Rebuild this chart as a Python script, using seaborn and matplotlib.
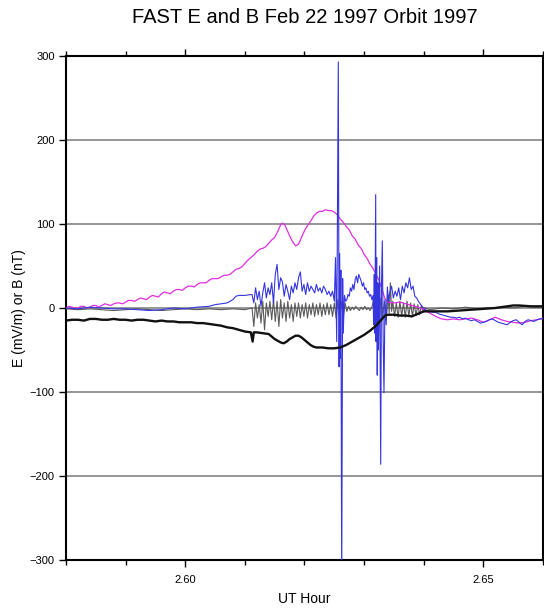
import numpy as np
import pandas as pd
import matplotlib
matplotlib.use("Agg")
import matplotlib.pyplot as plt
import seaborn as sns
from matplotlib.ticker import MultipleLocator

# ---- FAST orbit 1997 traces: (UT hour, value) ----
# magnetic perturbation (nT)
b_pert = [
    (2.580, 0), (2.5805, 2), (2.581, 1), (2.5815, 0), (2.582, 0), (2.5825, 2),
    (2.583, 2), (2.5835, 0), (2.584, 1), (2.5845, 3), (2.585, 3), (2.5855, 1),
    (2.586, 3), (2.5865, 5), (2.587, 4), (2.5875, 3), (2.588, 5), (2.5885, 6),
    (2.589, 6), (2.5895, 5), (2.590, 7), (2.5905, 9), (2.591, 9), (2.5915, 8),
    (2.592, 10), (2.5925, 12), (2.593, 11), (2.5935, 10), (2.594, 13),
    (2.5945, 15), (2.595, 14), (2.5955, 13), (2.596, 17), (2.5965, 19),
    (2.597, 18), (2.5975, 17), (2.598, 20), (2.5985, 22), (2.599, 22),
    (2.5995, 21), (2.600, 24), (2.6005, 26), (2.601, 26), (2.6015, 25),
    (2.602, 28), (2.6025, 30), (2.603, 30), (2.6035, 30), (2.604, 33),
    (2.6045, 35), (2.605, 35), (2.6055, 35), (2.606, 37), (2.6065, 39),
    (2.607, 39), (2.6075, 40), (2.608, 43), (2.6085, 46), (2.609, 47),
    (2.6095, 49), (2.610, 53), (2.6105, 57), (2.611, 60), (2.6115, 63),
    (2.612, 67), (2.6125, 70), (2.613, 71), (2.6135, 73), (2.614, 77),
    (2.6145, 81), (2.615, 84),
    (2.6155, 91), (2.616, 99), (2.6163, 101), (2.6167, 99), (2.617, 94),
    (2.6175, 86), (2.618, 79), (2.6185, 74), (2.619, 76), (2.6195, 84),
    (2.620, 92), (2.6205, 98), (2.621, 103), (2.6215, 109), (2.622, 113),
    (2.6225, 115), (2.623, 115), (2.6235, 117), (2.624, 116), (2.6245, 116),
    (2.625, 114), (2.6255, 111), (2.626, 106), (2.6265, 102), (2.627, 97),
    (2.6275, 93), (2.628, 86), (2.6285, 82), (2.629, 75), (2.6295, 71),
    (2.630, 64), (2.6305, 59), (2.631, 52), (2.6315, 47), (2.632, 40),
    (2.6325, 33), (2.633, 22), (2.6335, 11), (2.634, 7), (2.635, 6), (2.636, 7),
    (2.637, 5), (2.638, 3), (2.639, 1), (2.640, -2), (2.641, -6), (2.642, -10),
    (2.643, -13), (2.644, -14), (2.645, -13), (2.646, -14), (2.647, -13),
    (2.648, -12), (2.649, -14), (2.650, -17), (2.651, -14), (2.652, -11),
    (2.653, -14), (2.654, -16), (2.655, -17), (2.656, -18), (2.657, -17),
    (2.658, -15), (2.659, -14), (2.660, -12),
]

# electric field, along-track component (mV/m)
e_along = [
    (2.580, 0), (2.582, -1), (2.584, 1), (2.586, 0), (2.588, -1), (2.590, -1),
    (2.592, -2), (2.594, -3), (2.596, -2), (2.598, 0), (2.600, -1), (2.602, 1),
    (2.604, 2), (2.605, 4), (2.606, 5), (2.607, 6), (2.608, 10), (2.6085, 14),
    (2.609, 15), (2.610, 15), (2.611, 16),
    (2.6112, 16), (2.6115, 6), (2.6118, 24), (2.6121, 10), (2.6124, 20),
    (2.6127, 2), (2.6130, 18), (2.6133, 30), (2.6136, 12), (2.6139, 24),
    (2.6142, 16), (2.6145, 30), (2.6148, 6), (2.6151, 40), (2.6154, 52),
    (2.6157, 22), (2.6160, 36), (2.6163, 31), (2.6166, 14), (2.6169, 28),
    (2.6172, 20), (2.6175, 10), (2.6178, 26), (2.6181, 18), (2.6184, 30),
    (2.6187, 22), (2.6190, 36), (2.6193, 43), (2.6196, 20), (2.6199, 28),
    (2.6202, 16), (2.6205, 30), (2.6208, 20), (2.6211, 26), (2.6214, 22),
    (2.6217, 18), (2.6220, 28), (2.6223, 20), (2.6226, 24), (2.6229, 18),
    (2.6232, 26), (2.6235, 22), (2.6238, 16), (2.6241, 20), (2.6244, 14),
    (2.6247, 20), (2.6250, 8),
    (2.6252, 60), (2.6254, -40), (2.6255, 75), (2.62567, 293), (2.6258, -70),
    (2.6259, 65), (2.6260, -60), (2.6261, 45), (2.62624, -330), (2.6264, 35),
    (2.6265, -30), (2.6267, 15), (2.6269, 8),
    (2.6271, 10), (2.6273, 16), (2.6275, 14), (2.6277, 24), (2.6279, 20),
    (2.6281, 28), (2.6283, 22), (2.6285, 34), (2.6287, 38), (2.6289, 30),
    (2.6291, 40), (2.6293, 36), (2.6295, 32), (2.6297, 26), (2.6299, 30),
    (2.6301, 22), (2.6303, 24), (2.6305, 18), (2.6307, 20), (2.6309, 14),
    (2.6311, 16), (2.6313, 10),
    (2.6315, 15), (2.6316, -20), (2.6317, 40), (2.6318, -30), (2.63194, 135),
    (2.6320, -40), (2.6321, 60), (2.6322, -80), (2.6323, 30), (2.6324, -50),
    (2.6326, 50), (2.63278, -186), (2.6329, 20), (2.63305, 80), (2.6332, -40),
    (2.63333, -101), (2.6335, 10), (2.6337, -20), (2.6339, 25), (2.6341, 8),
    (2.6343, 18), (2.6346, 26), (2.6349, 12), (2.6352, 20), (2.6355, 14),
    (2.6358, 24), (2.6361, 10), (2.6364, 26), (2.6367, 18), (2.6370, 30),
    (2.6373, 24), (2.6376, 36), (2.6379, 22), (2.6382, 26), (2.6385, 14),
    (2.6388, 12), (2.6391, 8), (2.6394, 5), (2.6397, 2), (2.6400, 0),
    (2.6405, -3), (2.6410, -4), (2.6415, -5), (2.6420, -5), (2.6425, -7),
    (2.6430, -8), (2.6435, -9), (2.6440, -10), (2.6445, -11), (2.6450, -11),
    (2.6455, -12), (2.6460, -11), (2.6465, -13), (2.6470, -12), (2.6475, -14),
    (2.6480, -15), (2.6485, -14), (2.6490, -16), (2.6495, -18), (2.6500, -17),
    (2.6505, -16), (2.6510, -14), (2.6515, -13), (2.6520, -15), (2.6525, -17),
    (2.6530, -18), (2.6535, -19), (2.6540, -20), (2.6545, -17), (2.6550, -15),
    (2.6555, -14), (2.6560, -17), (2.6565, -20), (2.6570, -16), (2.6575, -14),
    (2.6580, -15), (2.6585, -16), (2.6590, -14), (2.6595, -13), (2.6600, -13),
]

# electric field, spin-axis component (mV/m)
e_spin = [
    (2.580, -1), (2.582, -2), (2.584, -1), (2.586, -2), (2.588, -3), (2.590, -2),
    (2.592, -1), (2.594, -2), (2.596, -3), (2.598, -2), (2.600, -1), (2.602, -2),
    (2.604, -1), (2.606, -2), (2.608, -1), (2.610, -2),
    (2.6112, 0), (2.6115, -22), (2.6118, 6), (2.6121, -12), (2.6124, 4),
    (2.6127, -18), (2.6130, 8), (2.6133, -26), (2.6136, 6), (2.6139, -10),
    (2.6142, 8), (2.6145, -14), (2.6148, 10), (2.6151, -16), (2.6154, 8),
    (2.6157, -22), (2.6160, 10), (2.6163, -12), (2.6166, 6), (2.6169, -16),
    (2.6172, 8), (2.6175, -12), (2.6178, 4), (2.6181, -16), (2.6184, 6),
    (2.6187, -10), (2.6190, 6), (2.6193, -12), (2.6196, 4), (2.6199, -10),
    (2.6202, 6), (2.6205, -12), (2.6208, 4), (2.6211, -8), (2.6214, 6),
    (2.6217, -10), (2.6220, 4), (2.6223, -8), (2.6226, 6), (2.6229, -10),
    (2.6232, 4), (2.6235, -8), (2.6238, 6), (2.6241, -8), (2.6244, 4),
    (2.6247, -10), (2.6250, 6),
    (2.6253, -12), (2.6256, 10), (2.6259, -14), (2.6262, 8), (2.6265, -10),
    (2.6268, 6), (2.6271, -4),
    (2.6274, 2), (2.6277, -3), (2.6280, 1), (2.6283, -2), (2.6286, 2),
    (2.6289, -1), (2.6292, -3), (2.6295, 1), (2.6298, -2), (2.6301, 2),
    (2.6304, -2), (2.6307, 0), (2.6310, -3), (2.6313, 1),
    (2.6316, 10), (2.6319, -20), (2.6322, 14), (2.6325, -18), (2.6328, 12),
    (2.6331, -10), (2.6334, 8), (2.6337, -14), (2.6340, 16), (2.6342, -6),
    (2.6344, 30), (2.6346, -4),
    (2.6348, 8), (2.6351, -10), (2.6354, 6), (2.6357, -11), (2.6360, 8),
    (2.6363, -10), (2.6366, 6), (2.6369, -11), (2.6372, 8), (2.6375, -10),
    (2.6378, 6), (2.6381, -10), (2.6384, 5), (2.6387, -9), (2.6390, 4),
    (2.6393, -8), (2.6396, 3), (2.6399, -5), (2.6402, 0),
    (2.641, -2), (2.643, 0), (2.645, -1), (2.647, 1), (2.649, -1), (2.651, 0),
    (2.653, 1), (2.655, 0), (2.657, 2), (2.659, 1), (2.660, 2),
]

# magnetic field, second component (nT)
b_comp = [
    (2.580, -15), (2.581, -14), (2.582, -14), (2.583, -15), (2.584, -13),
    (2.585, -13), (2.586, -14), (2.587, -14), (2.588, -13), (2.589, -14),
    (2.590, -14), (2.591, -15), (2.592, -14), (2.593, -14), (2.594, -15),
    (2.595, -16), (2.596, -15), (2.597, -16), (2.598, -16), (2.599, -17),
    (2.600, -17), (2.601, -17), (2.602, -18), (2.603, -18), (2.604, -19),
    (2.605, -20), (2.606, -21), (2.607, -23), (2.608, -24),
    (2.609, -26), (2.610, -28), (2.611, -29), (2.6113, -40), (2.6115, -29),
    (2.612, -29), (2.613, -30), (2.614, -31), (2.6145, -34), (2.615, -37),
    (2.6155, -39), (2.616, -41), (2.6165, -42), (2.617, -40), (2.6175, -37),
    (2.618, -35), (2.6185, -33), (2.619, -33), (2.6195, -35), (2.620, -38),
    (2.6205, -41), (2.621, -44), (2.6215, -46), (2.622, -47), (2.623, -47),
    (2.624, -48), (2.625, -48), (2.626, -47), (2.627, -44), (2.628, -40),
    (2.629, -36), (2.630, -32), (2.631, -27), (2.632, -21), (2.6325, -17),
    (2.633, -13), (2.6335, -9), (2.634, -8), (2.635, -8), (2.636, -9),
    (2.637, -9), (2.638, -10), (2.639, -7), (2.640, -4), (2.642, -4),
    (2.644, -4), (2.646, -3), (2.648, -2), (2.650, -1), (2.652, 0),
    (2.654, 2), (2.655, 3), (2.656, 3), (2.658, 2), (2.660, 2),
]

y_ticks = [-300, -200, -100, 0, 100, 200, 300]
x_ticks = [2.60, 2.65]
x_ticklabels = ["2.60", "2.65"]

# drawing order, colour and width of each trace
traces = [
    ("E spin", e_spin, "#5a5a5a", 0.8),
    ("dB", b_pert, "#e02ee0", 0.9),
    ("E along", e_along, "#3535e0", 0.8),
    ("B comp", b_comp, "#111111", 1.7),
]

frames = []
for name, pts, _, _ in traces:
    arr = np.array(pts, dtype=float)
    frames.append(pd.DataFrame({"ut": arr[:, 0], "val": arr[:, 1], "trace": name}))
data = pd.concat(frames, ignore_index=True)

sns.set_theme(style="ticks")
plt.rcParams["font.family"] = ["Liberation Sans", "DejaVu Sans"]
plt.rcParams["axes.unicode_minus"] = True
plt.rcParams["text.color"] = "black"
plt.rcParams["axes.labelcolor"] = "black"
plt.rcParams["xtick.color"] = "black"
plt.rcParams["ytick.color"] = "black"

fig = plt.figure(figsize=(5.44, 6.10), dpi=100)
ax = fig.add_axes([66 / 544, 1 - 560 / 610, 477 / 544, 504 / 610])

for name, _, color, lw in traces:
    sns.lineplot(data=data[data["trace"] == name], x="ut", y="val", ax=ax,
                 color=color, linewidth=lw, estimator=None, sort=False,
                 legend=False, zorder=3)

ax.set_xlim(2.58, 2.66)
ax.set_ylim(-300, 300)
ax.set_yticks(y_ticks)
ax.set_xticks(x_ticks)
ax.set_xticklabels(x_ticklabels)
ax.xaxis.set_minor_locator(MultipleLocator(0.01))

ax.grid(axis="y", color="#8e8e8e", linewidth=1.3)
ax.set_axisbelow(True)

for sp in ax.spines.values():
    sp.set_visible(True)
    sp.set_color("black")
    sp.set_linewidth(1.5)

ax.tick_params(axis="x", which="major", direction="out", length=5, width=1,
               top=True, bottom=True, labelsize=8, pad=6, colors="black")
ax.tick_params(axis="x", which="minor", direction="out", length=3.5, width=1,
               top=True, bottom=True, colors="black")
ax.tick_params(axis="y", direction="out", length=5, width=1, left=True,
               right=False, labelsize=8, pad=3, colors="black")

ax.set_xlabel("UT Hour", fontsize=10, labelpad=5, color="black")
ax.set_ylabel("E (mV/m) or B (nT)", fontsize=10, labelpad=3, color="black")
ax.set_title("FAST E and B Feb 22 1997 Orbit 1997", fontsize=14.5, pad=24,
             color="black")

fig.savefig("out.png", dpi=100)
